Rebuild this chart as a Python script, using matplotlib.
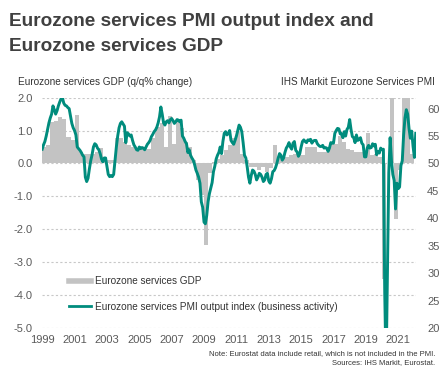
import numpy as np
import matplotlib
matplotlib.use('Agg')
import matplotlib.pyplot as plt
from matplotlib.lines import Line2D

plt.rcParams['font.family'] = ['Liberation Sans', 'DejaVu Sans']

# --- data ---

# quarterly q/q % change, eurozone services GDP, 1999Q1 .. 2021Q4
# 2020Q2 is far off scale and not drawn in the original
gdp = [0.5, 0.55, 1.25, 1.3,      # 1999
       1.42, 1.35, 0.8, 0.72,     # 2000
       1.47, 0.35, 0.3, 0.3,      # 2001
       0.3, 0.35, 0.47, 0.2,      # 2002
       0.1, 0.1, 0.77, 0.77,      # 2003
       0.65, 0.56, 0.5, 0.45,     # 2004
       0.45, 0.5, 0.45, 0.76,     # 2005
       1.12, 1.23, 0.5, 1.45,     # 2006
       0.6, 1.27, 1.08, 0.66,     # 2007
       0.5, 0.1, -0.5, -0.96,     # 2008
       -2.48, -0.3, 0.05, 0.15,   # 2009
       0.26, 0.4, 0.56, 0.77,     # 2010
       0.97, 0.3, 0.1, -0.1,      # 2011
       -0.1, -0.2, -0.1, -0.25,   # 2012
       -0.15, 0.56, 0.2, 0.2,     # 2013
       0.2, 0.25, 0.3, 0.3,       # 2014
       0.25, 0.51, 0.51, 0.51,    # 2015
       0.35, 0.35, 0.35, 0.61,    # 2016
       0.6, 0.83, 0.66, 0.45,     # 2017
       0.41, 0.35, 0.35, 0.35,    # 2018
       0.92, 0.25, 0.3, 0.2,      # 2019
       -3.5, np.nan, 12.0, -1.7,  # 2020
       -0.2, 2.4, 2.6, 0.3]       # 2021

# monthly services PMI business activity index, Jan 1999 .. Feb 2022
pmi = [52.6, 53.4, 54.0, 55.0, 56.2, 57.4, 58.3, 59.0, 60.5, 59.8, 59.0, 59.6,
       60.5, 61.2, 61.8, 62.0, 61.0, 60.6, 60.5, 60.2, 60.0, 58.6, 57.3, 56.5,
       56.0, 55.2, 53.0, 52.7, 52.4, 52.0, 51.5, 51.2, 47.5, 46.7, 47.3, 49.0,
       50.5, 51.6, 53.0, 53.6, 53.4, 52.8, 52.5, 51.8, 50.8, 50.3, 51.0, 51.0,
       49.5, 48.0, 47.6, 47.8, 47.6, 48.0, 50.5, 53.0, 55.0, 56.5, 57.3, 57.6,
       57.2, 56.8, 53.8, 55.6, 55.4, 55.0, 55.2, 54.2, 53.4, 53.0, 52.5, 52.4,
       53.0, 52.7, 52.9, 52.8, 52.5, 53.0, 53.5, 53.8, 54.2, 54.9, 55.3, 55.8,
       56.1, 56.6, 57.4, 58.5, 60.3, 59.0, 57.4, 57.0, 57.6, 57.8, 57.4, 58.0,
       58.2, 57.8, 57.3, 57.6, 58.0, 57.9, 57.6, 57.9, 55.0, 54.6, 54.0, 53.6,
       52.0, 52.5, 51.5, 51.0, 50.6, 49.8, 48.8, 48.2, 47.5, 46.4, 43.0, 42.0,
       39.3, 39.0, 40.5, 43.0, 44.5, 45.5, 46.5, 48.5, 49.5, 50.8, 51.5, 52.0,
       53.0, 51.8, 54.0, 55.5, 55.8, 55.2, 55.5, 56.0, 54.2, 53.8, 53.5, 54.2,
       55.0, 56.0, 57.0, 56.6, 55.8, 53.8, 51.5, 51.0, 49.4, 47.5, 46.4, 47.8,
       48.8, 48.6, 48.0, 47.0, 47.5, 48.2, 48.0, 47.5, 46.7, 47.0, 48.0, 48.2,
       46.8, 46.4, 47.2, 48.5, 48.7, 49.2, 50.0, 51.0, 51.8, 51.5, 50.6, 51.0,
       52.0, 52.8, 53.2, 53.8, 53.0, 52.6, 53.7, 54.0, 52.4, 52.1, 51.3, 51.8,
       53.0, 54.0, 54.3, 54.0, 53.8, 54.3, 54.2, 54.4, 53.7, 54.1, 54.2, 54.2,
       53.6, 53.3, 53.1, 53.1, 53.3, 52.8, 52.9, 52.8, 52.2, 52.8, 53.8, 53.7,
       53.7, 55.5, 56.0, 56.4, 56.3, 55.4, 55.4, 54.7, 55.8, 55.0, 56.2, 56.6,
       58.0, 56.2, 54.9, 54.7, 53.8, 55.2, 54.2, 54.4, 54.7, 53.7, 53.4, 51.2,
       51.2, 52.8, 53.3, 52.8, 52.9, 53.6, 53.2, 53.5, 51.6, 52.2, 51.9, 52.8,
       52.5, 52.6, 26.4, 12.0, 30.5, 48.3, 54.7, 50.5, 48.0, 46.9, 41.7, 46.4,
       45.4, 45.7, 49.6, 50.5, 55.2, 58.3, 59.8, 59.0, 56.4, 54.6, 55.9, 53.1,
       51.1, 55.5]

year_ticks = list(range(1999, 2022, 2))
gdp_ticks = [2.0, 1.0, 0.0, -1.0, -2.0, -3.0, -4.0, -5.0]
pmi_ticks = [20, 25, 30, 35, 40, 45, 50, 55, 60]

gdp_x = 1999 + np.arange(len(gdp)) / 4
pmi_x = 1999 + np.arange(len(pmi)) / 12

teal = '#008c7d'
grey_bar = '#c3c3c3'
txt = '#404040'
tick_col = '#5a5a5a'

# --- plot ---
f = plt.figure(figsize=(4.44, 3.80), dpi=100)
ax = f.add_axes([0.095, 0.137, 0.842, 0.606])
ax2 = ax.twinx()

ax.bar(gdp_x, gdp, width=0.25, align='edge', color=grey_bar, linewidth=0)
ax.set_ylim(-5, 2)
ax.set_yticks(gdp_ticks)
ax.set_yticklabels(['%.1f' % v for v in gdp_ticks])
ax.set_xlim(1999, 2022.1)
ax.set_xticks(year_ticks)
ax.set_xticklabels([str(y) for y in year_ticks])
ax.grid(axis='y', linestyle=(0, (2, 2)), color='#c8c8c8', linewidth=0.8)
ax.set_axisbelow(True)

ax2.plot(pmi_x, pmi, color=teal, linewidth=2.1, solid_joinstyle='round')
ax2.set_ylim(20, 62)
ax2.set_yticks(pmi_ticks)

for a in (ax, ax2):
    for s in a.spines.values():
        s.set_visible(False)
    a.tick_params(length=0, labelsize=8, labelcolor=tick_col)
ax.tick_params(axis='y', pad=7)
ax.tick_params(axis='x', pad=5)
ax2.tick_params(axis='y', pad=8)

handles = [Line2D([], [], color=grey_bar, linewidth=4),
           Line2D([], [], color=teal, linewidth=2)]
labels = ['Eurozone services GDP',
          'Eurozone services PMI output index (business activity)']
leg = ax2.legend(handles, labels, loc='lower left', bbox_to_anchor=(0.06, 0.052),
                 frameon=False, fontsize=7.2, handlelength=2.2, handletextpad=0.4,
                 labelspacing=1.55, borderaxespad=0)
for t in leg.get_texts():
    t.set_color('#333333')

f.text(0.02, 0.966, 'Eurozone services PMI output index and\nEurozone services GDP',
       fontsize=13.7, fontweight='bold', color=txt, va='top', linespacing=1.6)
f.text(0.04, 0.785, 'Eurozone services GDP (q/q% change)', fontsize=7.2,
       color='#333333', va='center')
f.text(0.98, 0.785, 'IHS Markit Eurozone Services PMI', fontsize=7.2,
       color='#333333', va='center', ha='right')
f.text(0.98, 0.058, 'Note: Eurostat data include retail, which is not included in the PMI.\n'
       'Sources: IHS Markit, Eurostat.', fontsize=5.5, color='#333333',
       ha='right', va='center', multialignment='right', linespacing=1.3)

f.savefig('out.png', dpi=100)
